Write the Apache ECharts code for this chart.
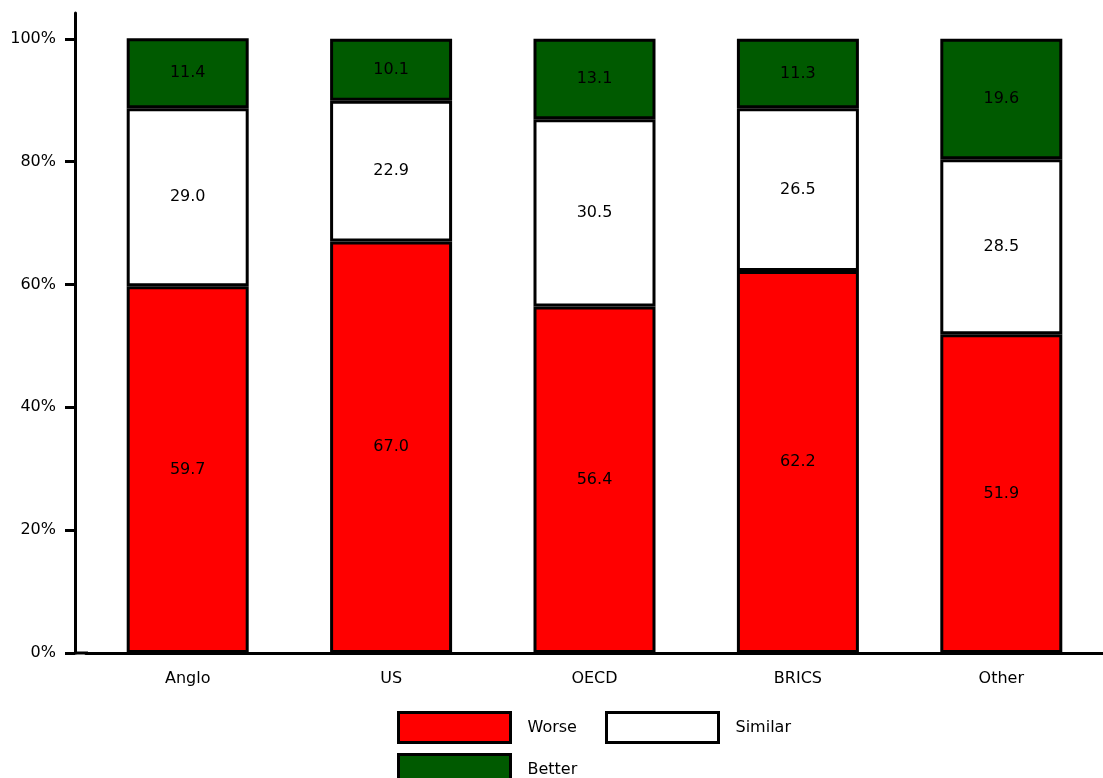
<!DOCTYPE html>
<html>
<head>
<meta charset="utf-8">
<script src="https://cdn.jsdelivr.net/npm/echarts@6/dist/echarts.min.js"></script>
<style>
html,body{margin:0;padding:0;background:#fff;}
#chart{width:1103px;height:778px;}
</style>
</head>
<body>
<div id="chart"></div>
<script>
const categories = ['Anglo', 'US', 'OECD', 'BRICS', 'Other'];
const worse = [59.7, 67.0, 56.4, 62.2, 51.9];
const similar = [29.0, 22.9, 30.5, 26.5, 28.5];
const better = [11.4, 10.1, 13.1, 11.3, 19.6];
const yTicks = [0, 20, 40, 60, 80, 100];

const FONT = 'DejaVu Sans';
const chart = echarts.init(document.getElementById('chart'), null, {renderer: 'canvas'});

function seriesOf(name, data, color) {
  return {
    name: name,
    type: 'bar',
    stack: 'total',
    data: data,
    barWidth: 122,
    itemStyle: {color: color, borderColor: '#000', borderWidth: 3},
    label: {
      show: true,
      position: 'inside',
      color: '#000',
      fontFamily: FONT,
      fontSize: 16,
      formatter: p => p.value.toFixed(1)
    },
    emphasis: {disabled: true}
  };
}

function legendOf(name, left, top) {
  return {
    data: [name],
    left: left,
    top: top,
    padding: 0,
    orient: 'horizontal',
    itemWidth: 112,
    itemHeight: 30,
    icon: 'rect',
    selectedMode: false,
    itemStyle: {borderColor: '#000', borderWidth: 3},
    textStyle: {color: '#000', fontFamily: FONT, fontSize: 16, padding: [0, 0, 0, 12]}
  };
}

chart.setOption({
  animation: false,
  backgroundColor: '#fff',
  grid: {left: 86, right: 0, top: 13, bottom: 125, containLabel: false},
  xAxis: {
    type: 'category',
    data: categories,
    axisLine: {lineStyle: {color: '#000', width: 3}},
    axisTick: {show: false},
    axisLabel: {color: '#000', fontFamily: FONT, fontSize: 16, margin: 18}
  },
  yAxis: {
    type: 'value',
    min: 0,
    max: 104.2,
    offset: 11,
    splitLine: {show: false},
    axisLine: {show: true, lineStyle: {color: '#000', width: 3}},
    axisTick: {show: true, length: 10, lineStyle: {color: '#000', width: 3}, customValues: yTicks},
    axisLabel: {color: '#000', fontFamily: FONT, fontSize: 16, margin: 19, customValues: yTicks,
      formatter: v => v + '%'}
  },
  legend: [
    legendOf('Worse', 397, 711),
    legendOf('Similar', 605, 711),
    legendOf('Better', 397, 753)
  ],
  graphic: [{
    type: 'line',
    shape: {x1: 74, y1: 653, x2: 88, y2: 653},
    style: {stroke: '#000', lineWidth: 3},
    z: 10
  }],
  series: [
    seriesOf('Worse', worse, '#FF0000'),
    seriesOf('Similar', similar, '#FFFFFF'),
    seriesOf('Better', better, '#005A00')
  ]
});
</script>
</body>
</html>
